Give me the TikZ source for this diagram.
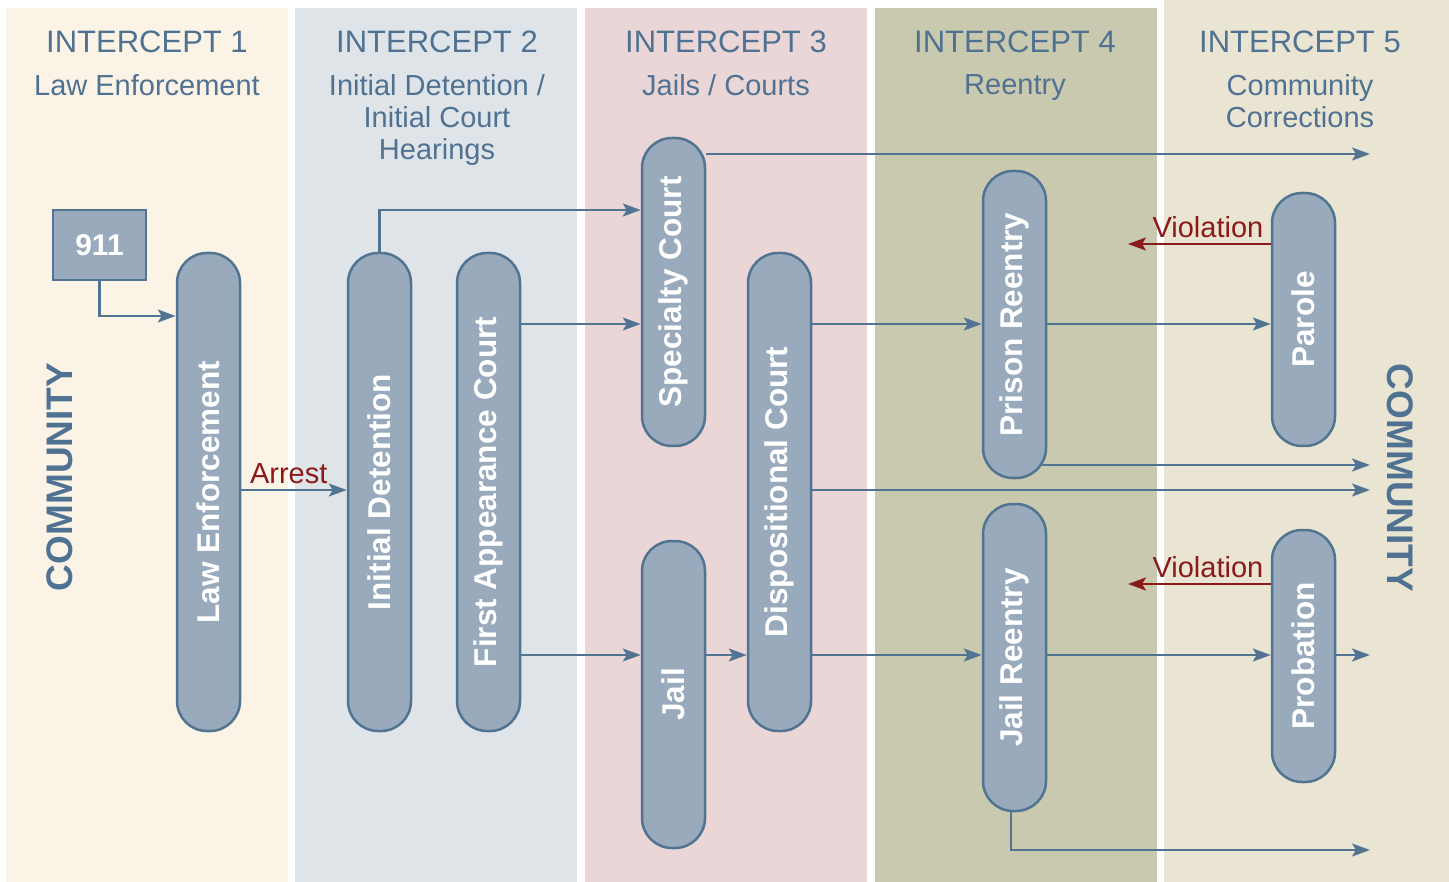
\documentclass[tikz,border=0pt]{standalone}
\usepackage{fontspec}
\setmainfont{Liberation Sans}
\usepackage{graphicx}
\usepackage{xcolor}
\usetikzlibrary{arrows.meta,positioning}

\definecolor{panelA}{RGB}{251,244,230}
\definecolor{panelB}{RGB}{223,228,232}
\definecolor{panelC}{RGB}{234,214,214}
\definecolor{panelD}{RGB}{201,201,176}
\definecolor{panelE}{RGB}{234,229,210}
\definecolor{boxfill}{RGB}{152,170,187}
\definecolor{boxline}{RGB}{80,116,145}
\definecolor{headblue}{RGB}{80,114,146}
\definecolor{violred}{RGB}{139,26,26}

\begin{document}
\begin{tikzpicture}[x=1pt,y=-1pt]
	\tikzstyle{every node}+=[inner sep=0pt]
	\tikzstyle{pill}=[draw=boxline, fill=boxfill, line width=2.5pt, rounded corners=30pt, minimum width=63pt, text=white, font=\fontsize{31.5}{31.5}\selectfont\bfseries]
	\tikzstyle{arr}=[boxline, line width=2.2pt, -{Stealth[length=18pt,width=13pt,inset=4pt]}]
	\tikzstyle{viol}=[violred, line width=2.2pt, -{Stealth[length=18pt,width=13pt,inset=4pt]}]
	\tikzstyle{head}=[text=headblue, font=\fontsize{31}{31}\selectfont, anchor=base]
	\tikzstyle{sub}=[text=headblue, font=\fontsize{29}{32}\selectfont, align=center, anchor=north]
	\tikzstyle{lbl}=[text=violred, font=\fontsize{29}{29}\selectfont, above=5pt]
	\tikzstyle{side}=[text=headblue, font=\fontsize{37}{37}\selectfont\bfseries]
	\useasboundingbox (0,0) rectangle (1449,882);
	\fill [white] (0,0) rectangle (1449,882);
	% intercept bands
	\fill [panelA] (6,8) rectangle (288,882);
	\fill [panelB] (295,8) rectangle (577,882);
	\fill [panelC] (585,8) rectangle (867,882);
	\fill [panelD] (875,8) rectangle (1157,882);
	\fill [panelE] (1164,0) rectangle (1449,882);
	% headings
	\node [head] (h1) at (147,53) {INTERCEPT 1};
	\node [sub] (s1) at (147,74) {Law Enforcement};
	\node [head] (h2) at (437,53) {INTERCEPT 2};
	\node [sub] (s2) at (437,74) {Initial Detention /\\Initial Court\\Hearings};
	\node [head] (h3) at (726,53) {INTERCEPT 3};
	\node [sub] (s3) at (726,74) {Jails / Courts};
	\node [head] (h4) at (1015,53) {INTERCEPT 4};
	\node [sub] (s4) at (1015,74) {Reentry};
	\node [head] (h5) at (1300,53) {INTERCEPT 5};
	\node [sub] (s5) at (1300,74) {Community\\Corrections};
	\node [side, rotate=90] (cl) at (60,477) {COMMUNITY};
	\node [side, rotate=-90] (cr) at (1400,478) {COMMUNITY};
	% boxes
	\node [draw=boxline, fill=boxfill, line width=2pt, minimum width=93pt, minimum height=70pt, text=white, font=\fontsize{30}{30}\selectfont\bfseries] (n911) at (99.5,245) {911};
	\node [pill, minimum height=478pt] (le) at (208.5,492) {\rotatebox{90}{Law Enforcement}};
	\node [pill, minimum height=478pt] (id) at (379.5,492) {\rotatebox{90}{Initial Detention}};
	\node [pill, minimum height=478pt] (fac) at (488.5,492) {\rotatebox{90}{First Appearance Court}};
	\node [pill, minimum height=308pt] (sc) at (673.5,292) {\rotatebox{90}{Specialty Court}};
	\node [pill, minimum height=307pt] (jail) at (673.5,694.5) {\rotatebox{90}{Jail}};
	\node [pill, minimum height=478pt] (dc) at (779.5,492) {\rotatebox{90}{Dispositional Court}};
	\node [pill, minimum height=307pt] (pr) at (1014.5,324.5) {\rotatebox{90}{Prison Reentry}};
	\node [pill, minimum height=307pt] (jr) at (1014.5,657.5) {\rotatebox{90}{Jail Reentry}};
	\node [pill, minimum height=253pt] (par) at (1303.5,319.5) {\rotatebox{90}{Parole}};
	\node [pill, minimum height=252pt] (prob) at (1303.5,656) {\rotatebox{90}{Probation}};
	% loose ends
	\coordinate (eSpec) at (1370,154);
	\coordinate (ePrison) at (1370,465);
	\coordinate (eDisp) at (1370,490);
	\coordinate (eProb) at (1370,655);
	\coordinate (eJail) at (1370,850);
	\coordinate (vPar) at (1128,244);
	\coordinate (vProb) at (1128,584);
	% flows
	\draw [arr] (n911.south) |- (le.west |- 0,316);
	\draw [arr] (le.east |- 0,490) -- (id.west |- 0,490) node [lbl, pos=0.45] {Arrest};
	\draw [arr] (id.north) |- (sc.west |- 0,210);
	\draw [arr] (fac.east |- 0,324) -- (sc.west |- 0,324);
	\draw [arr] (fac.east |- 0,655) -- (jail.west |- 0,655);
	\draw [arr] (sc.east |- eSpec) -- (eSpec);
	\draw [arr] (jail.east |- 0,655) -- (dc.west |- 0,655);
	\draw [arr] (dc.east |- 0,324) -- (pr.west |- 0,324);
	\draw [arr] (dc.east |- eDisp) -- (eDisp);
	\draw [arr] (dc.east |- 0,655) -- (jr.west |- 0,655);
	\draw [arr] (pr.east |- 0,324) -- (par.west |- 0,324);
	\draw [arr, shorten <=-5pt] (pr.east |- ePrison) -- (ePrison);
	\draw [viol] (par.west |- vPar) -- (vPar) node [lbl, pos=0.44] {Violation};
	\draw [arr] (jr.east |- 0,655) -- (prob.west |- 0,655);
	\draw [arr] (prob.east |- eProb) -- (eProb);
	\draw [viol] (prob.west |- vProb) -- (vProb) node [lbl, pos=0.44] {Violation};
	\draw [arr] ([xshift=-3.5pt]jr.south) |- (eJail);
\end{tikzpicture}
\end{document}
